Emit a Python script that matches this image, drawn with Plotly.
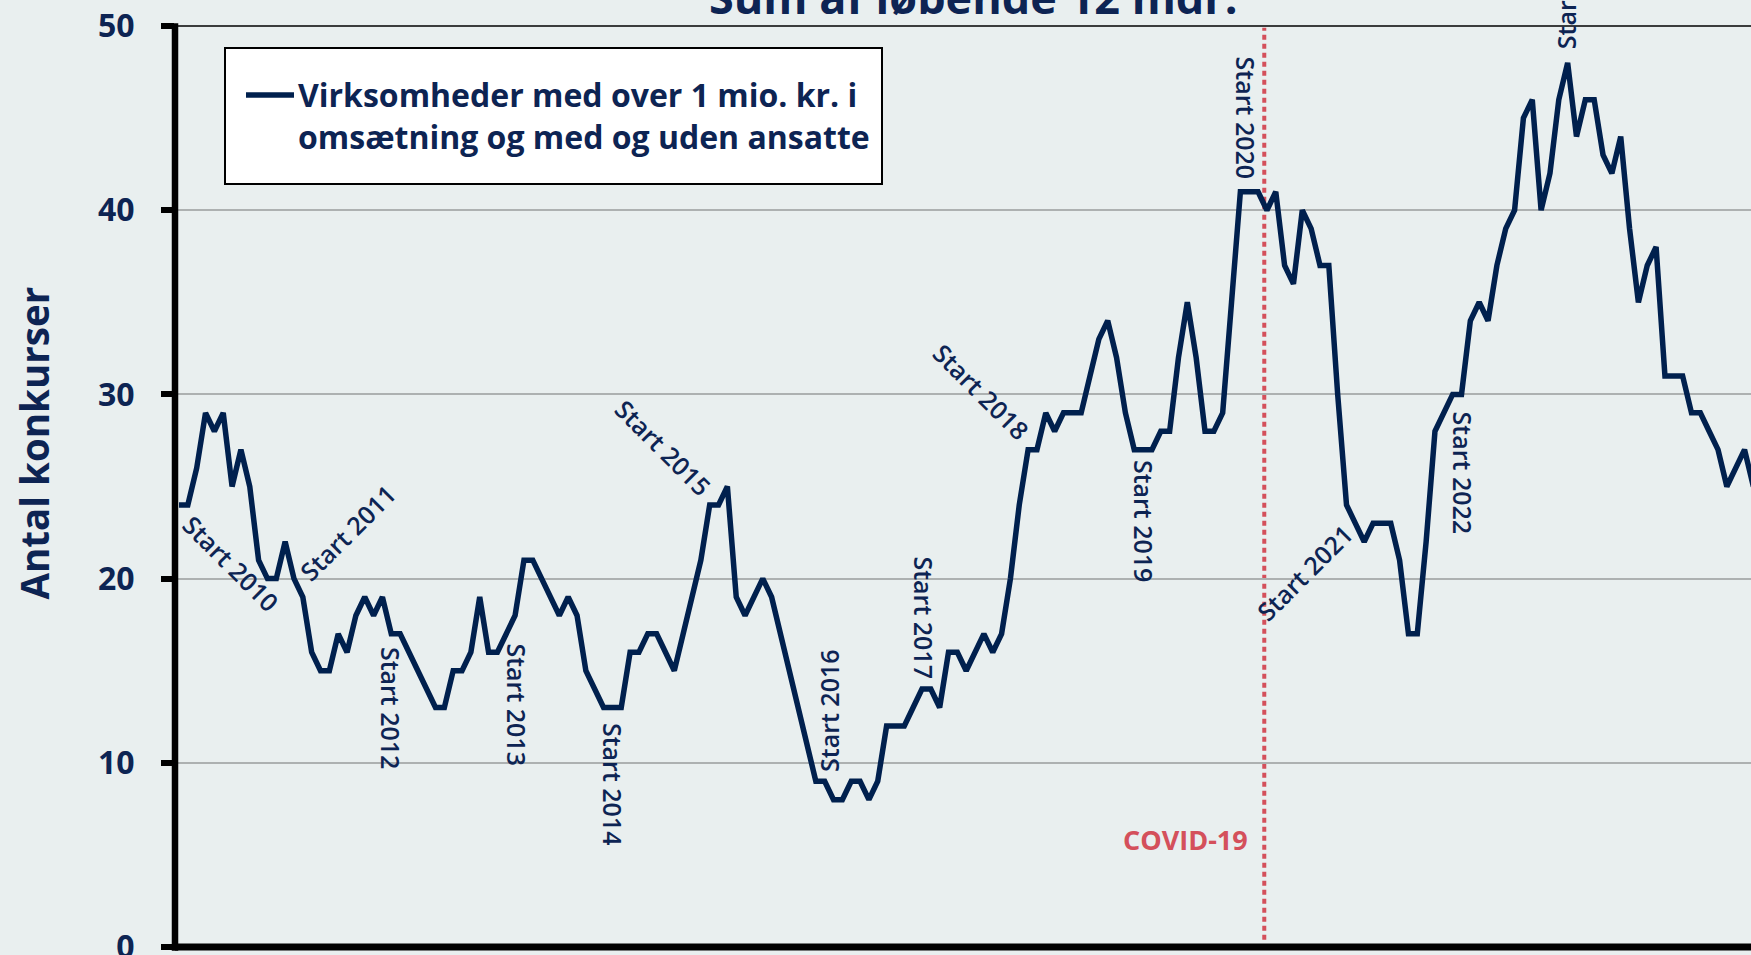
import plotly.graph_objects as go
import pandas as pd

# ---- data -------------------------------------------------------------
months = [d.strftime("%Y-%m") for d in pd.date_range("2009-12-01", periods=179, freq="MS")]

konkurser = [
    24, 24, 26, 29, 28, 29, 25, 27, 25, 21,
    20, 20, 22, 20, 19, 16, 15, 15, 17, 16,
    18, 19, 18, 19, 17, 17, 16, 15, 14, 13,
    13, 15, 15, 16, 19, 16, 16, 17, 18, 21,
    21, 20, 19, 18, 19, 18, 15, 14, 13, 13,
    13, 16, 16, 17, 17, 16, 15, 17, 19, 21,
    24, 24, 25, 19, 18, 19, 20, 19, 17, 15,
    13, 11, 9, 9, 8, 8, 9, 9, 8, 9,
    12, 12, 12, 13, 14, 14, 13, 16, 16, 15,
    16, 17, 16, 17, 20, 24, 27, 27, 29, 28,
    29, 29, 29, 31, 33, 34, 32, 29, 27, 27,
    27, 28, 28, 32, 35, 32, 28, 28, 29, 35,
    41, 41, 41, 40, 41, 37, 36, 40, 39, 37,
    37, 30, 24, 23, 22, 23, 23, 23, 21, 17,
    17, 22, 28, 29, 30, 30, 34, 35, 34, 37,
    39, 40, 45, 46, 40, 42, 46, 48, 44, 46,
    46, 43, 42, 44, 39, 35, 37, 38, 31, 31,
    31, 29, 29, 28, 27, 25, 26, 27, 25,
]

y_ticks = [0, 10, 20, 30, 40, 50]
legend_lines = ["Virksomheder med over 1 mio. kr. i", "omsætning og med og uden ansatte"]
y_title = "Antal konkurser"
chart_title = "Sum af løbende 12 mdr."
covid_text = "COVID-19"
year_labels = ["Start 2010", "Start 2011", "Start 2012", "Start 2013", "Start 2014",
               "Start 2015", "Start 2016", "Start 2017", "Start 2018", "Start 2019",
               "Start 2020", "Start 2021", "Start 2022", "Start 2023"]

# ---- label placement (x in month index, y in value units, angle) ------
label_place = [
    (5.88, 20.85, 45), (19.1, 22.54, -45), (23.97, 12.98, 90), (38.27, 13.14, 90),
    (49.07, 8.85, 90), (54.83, 27.1, 45), (73.5, 12.82, -90), (84.23, 17.89, 90),
    (90.78, 30.14, 45), (109.1, 23.08, 90), (120.6, 44.99, 90), (127.3, 20.36, -45),
    (145.2, 25.74, 90), (156.8, 52.1, -90),
]

NAVY = "#00204E"
TEXT = "#0D2453"
RED = "#D4505B"
BG = "#E9EFEF"
FONT = "Open Sans"

W, H = 1751, 955
ML, MT, MB = 175, 26, 8
PW, PH = W - ML, H - MT - MB


def px(xp):
    return (xp - ML) / PW


def py(yp):
    return (H - MB - yp) / PH


fig = go.Figure()
fig.add_trace(go.Scatter(
    x=months, y=konkurser, mode="lines",
    line=dict(color=NAVY, width=5.5), showlegend=False, hoverinfo="skip",
))

shapes = []
# COVID marker line
shapes.append(dict(type="line", xref="x", yref="paper", x0=122.7, x1=122.7, y0=0.008, y1=0.998,
                   line=dict(color=RED, width=4, dash="5px,4px"), layer="below"))
# plot frame
shapes.append(dict(type="line", xref="paper", yref="paper", x0=0, x1=1.01, y0=1, y1=1,
                   line=dict(color="black", width=1.6)))
shapes.append(dict(type="line", xref="paper", yref="paper", x0=0, x1=1.01, y0=0, y1=0,
                   line=dict(color="black", width=7)))
shapes.append(dict(type="line", xref="paper", yref="paper", x0=0, x1=0, y0=-0.004, y1=1.003,
                   line=dict(color="black", width=6.5)))
# legend box
shapes.append(dict(type="rect", xref="paper", yref="paper", x0=px(225), x1=px(882), y0=py(184), y1=py(48),
                   fillcolor="white", line=dict(color="black", width=2)))
shapes.append(dict(type="line", xref="paper", yref="paper", x0=px(246), x1=px(294), y0=py(95), y1=py(95),
                   line=dict(color=NAVY, width=5.5)))

annotations = []
annotations.append(dict(xref="paper", yref="paper", x=px(296), y=py(115), xanchor="left", yanchor="middle",
                        text="<br>".join(legend_lines), align="left", showarrow=False,
                        font=dict(family=FONT, size=32, color=TEXT, weight=700)))
annotations.append(dict(xref="paper", yref="paper", x=px(33), y=py(443.5), xanchor="center", yanchor="middle",
                        text=y_title, textangle=-90, showarrow=False,
                        font=dict(family=FONT, size=38.5, color=TEXT, weight=700)))
annotations.append(dict(xref="paper", yref="paper", x=px(973), y=py(-3), xanchor="center", yanchor="middle",
                        text=chart_title, showarrow=False,
                        font=dict(family=FONT, size=45, color=TEXT, weight=700)))
annotations.append(dict(xref="paper", yref="paper", x=px(1185.5), y=py(839), xanchor="center", yanchor="middle",
                        text=covid_text, showarrow=False,
                        font=dict(family=FONT, size=27, color=RED, weight=700)))
for txt, (lx, ly, ang) in zip(year_labels, label_place):
    annotations.append(dict(xref="x", yref="paper", x=lx, y=ly / 50.0, xanchor="center", yanchor="middle",
                            text=txt, textangle=ang, showarrow=False,
                            font=dict(family=FONT, size=25, color=TEXT, weight=600)))

fig.update_layout(
    width=W, height=H,
    margin=dict(l=ML, r=0, t=MT, b=MB, autoexpand=False),
    paper_bgcolor=BG, plot_bgcolor=BG,
    shapes=shapes, annotations=annotations,
    xaxis=dict(type="category", range=[-0.452, 177.73], showticklabels=False, ticks="",
               showgrid=False, zeroline=False, showline=False, automargin=False),
    yaxis=dict(range=[0, 50], tickvals=y_ticks, ticks="outside", ticklen=13, tickwidth=6,
               tickcolor="black", showline=False, zeroline=False, automargin=False,
               showgrid=True, gridcolor="#ADB1B1", gridwidth=2,
               tickfont=dict(family=FONT, size=32, color=TEXT, weight=700),
               ticklabelstandoff=20, ticklabeloverflow="allow"),
)

fig.write_html("out.html",
               config={"displayModeBar": False},
               post_script="document.body.style.margin='0';document.body.style.overflow='hidden';")
